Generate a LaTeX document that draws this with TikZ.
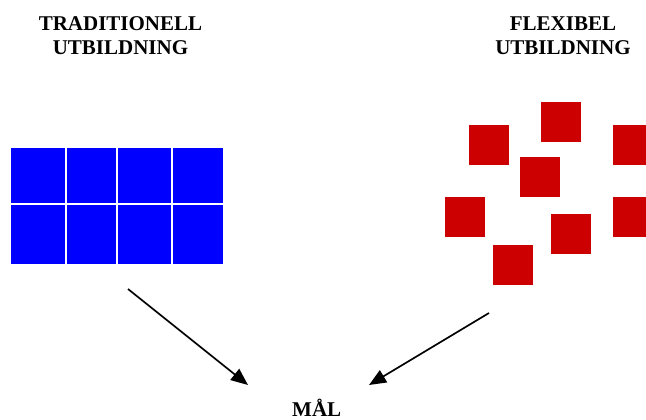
\documentclass[tikz,border=0pt]{standalone}
\usepackage{fontspec}
\setmainfont{Liberation Serif}
\usetikzlibrary{arrows.meta}
\definecolor{gridblue}{HTML}{0000FF}
\definecolor{boxred}{HTML}{CC0000}
\tikzset{
  title/.style={font=\bfseries\fontsize{21}{24}\selectfont, align=center, inner sep=0pt, anchor=north},
  cell/.style={fill=gridblue, draw=white, line width=1.6pt, inner sep=0pt, anchor=north west},
  sq/.style={fill=boxred, draw=none, inner sep=0pt, minimum width=39.6pt, minimum height=39.6pt, anchor=north west},
  goal/.style={-{Triangle[length=17pt,width=14pt]}, line width=1.7pt, black}
}
\begin{document}
\begin{tikzpicture}[x=1pt,y=-1pt]
\useasboundingbox (0,0) rectangle (646,420);
\clip (0,0) rectangle (646,420);
% titles
\node[title] (tradtitle) at (120.5,16.5) {TRADITIONELL\\UTBILDNING};
\node[title] (flextitle) at (563,16.5) {FLEXIBEL\\UTBILDNING};
% blue grid
\node[cell, minimum width=56pt, minimum height=57pt] (c11) at (9,146) {};
\node[cell, minimum width=51pt, minimum height=57pt] (c12) at (65,146) {};
\node[cell, minimum width=55pt, minimum height=57pt] (c13) at (116,146) {};
\node[cell, minimum width=52pt, minimum height=57pt] (c14) at (171,146) {};
\node[cell, minimum width=56pt, minimum height=61pt] (c21) at (9,203) {};
\node[cell, minimum width=51pt, minimum height=61pt] (c22) at (65,203) {};
\node[cell, minimum width=55pt, minimum height=61pt] (c23) at (116,203) {};
\node[cell, minimum width=52pt, minimum height=61pt] (c24) at (171,203) {};
% red squares
\node[sq] (r1) at (541,102) {};
\node[sq] (r2) at (469,125) {};
\node[sq] (r3) at (613,125) {};
\node[sq] (r4) at (520,157) {};
\node[sq] (r5) at (445,197) {};
\node[sq] (r6) at (613,197) {};
\node[sq] (r7) at (551,214) {};
\node[sq] (r8) at (493,245) {};
% goal
\node[font=\bfseries\fontsize{21}{24}\selectfont, inner sep=0pt, anchor=base] (mal) at (316.7,416.5) {MÅL};
% arrows
\coordinate (lstart) at (128,289);
\coordinate (lend) at (248,385);
\coordinate (rstart) at (489,313);
\coordinate (rend) at (369,385);
\draw[goal] (lstart) -- (lend);
\draw[goal] (rstart) -- (rend);
\end{tikzpicture}
\end{document}
